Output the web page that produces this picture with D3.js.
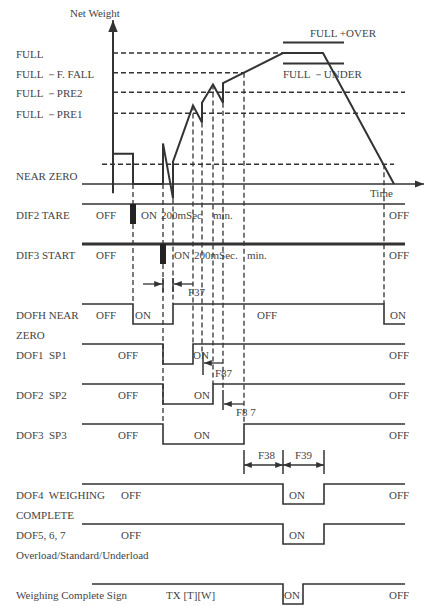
<!DOCTYPE html>
<html>
<head>
<meta charset="utf-8">
<script src="https://cdn.jsdelivr.net/npm/d3@7"></script>
<style>
  body { margin: 0; background: #fff; }
  svg text { font-family: "Liberation Serif", "DejaVu Serif", serif; font-size: 11px; fill: #444; white-space: pre; }
</style>
</head>
<body>
<div id="chart"></div>
<script>
// Net weight curve (time units, weight in % of FULL)
const curveT = [0, 0, 20, 20, 50, 50, 60, 60, 80, 89, 89, 100, 110, 110, 170, 210, 281];
const curveW = [0, 23, 23, 0, 0, 31, -11, 17, 60, 47, 62, 76, 62, 77, 100, 100, 0];

// Weight set points (dashed reference levels)
const levelNames = ["FULL", "FULL －F. FALL", "FULL －PRE2", "FULL －PRE1", "NEAR ZERO"];
const levelValues = [100, 85, 70, 54, 15];
const levelStart = [0, 0, 0, 0, -11];
const levelEnd = [170, 131, 292, 292, 281];

// Over / under tolerance band
const bandNames = ["FULL +OVER", "FULL －UNDER"];
const bandValues = [108, 92];
const bandRange = [170, 231];

// Signal rows
const rowNames = ["DIF2 TARE", "DIF3 START", "DOFH NEAR", "DOF1  SP1", "DOF2  SP2", "DOF3  SP3", "DOF4  WEIGHING", "DOF5, 6, 7", "Weighing Complete Sign"];
const rowSubNames = [null, null, "ZERO", null, null, null, "COMPLETE", "Overload/Standard/Underload", null];
const rowSlots = [0, 2, 5, 7, 9, 11, 14, 16, 19];
const rowBegin = [-31, -31, -31, -31, -31, -31, -31, -31, -21];
const rowEdges = [[], [], [20, 60, 271], [50, 80], [50, 100], [50, 131], [170, 211], [170, 211], [170, 190]];
const pulses = [[0, 17, 23], [1, 47, 53]]; // [row, from, to]

// State texts: [row, time, text]
const stateTexts = [
  [0, -17, "OFF"], [0, 28, "ON"], [0, 48, "200mSec"], [0, 100, "min."], [0, 276, "OFF"],
  [1, -17, "OFF"], [1, 61, "ON"], [1, 81, "200mSec."], [1, 134, "min."], [1, 276, "OFF"],
  [2, -17, "OFF"], [2, 22, "ON"], [2, 144, "OFF"], [2, 277, "ON"],
  [3, 5, "OFF"], [3, 80, "ON"], [3, 276, "OFF"],
  [4, 5, "OFF"], [4, 81, "ON"], [4, 276, "OFF"],
  [5, 5, "OFF"], [5, 81, "ON"], [5, 276, "OFF"],
  [6, 8, "OFF"], [6, 176, "ON"], [6, 276, "OFF"],
  [7, 8, "OFF"], [7, 176, "ON"],
  [8, 53, "TX [T][W]"], [8, 171, "ON"], [8, 276, "OFF"]
];

// Vertical guide lines: time, from weight, down to slot
const guideT = [20, 50, 60, 80, 89, 100, 110, 131, 271];
const guideFromW = [0, 0, -11, 60, 47, 76, 62, 85, 15];
const guideToSlot = [5, 11, 5, 7, 7.45, 9, 9.3, 11, 5];

// Timer annotations
const timerTicks = [[50, 3.7, 4.4], [60, 3.7, 4.4], [90, 7.45, 8.55], [110, 9.3, 10.3], [131, 12.3, 13.5], [170, 12.3, 13.5], [211, 12.3, 13.5]];
const timerArrows = [[30, 49, 4, 1], [80, 61, 4, 1], [110, 91, 7.95, 1], [131, 111, 10, 1], [131, 170, 13.05, 2], [170, 211, 13.05, 2]];
const timerLabels = [[75, 4.6, "F37"], [102, 8.65, "F87"], [123, 10.6, "F8 7"], [145, 12.75, "F38"], [182, 12.75, "F39"]];

const W = 432, H = 606;
const svg = d3.select("#chart").append("svg").attr("width", W).attr("height", H);

const defs = svg.append("defs");
defs.append("marker").attr("id", "ah").attr("viewBox", "0 0 10 10")
  .attr("refX", 10).attr("refY", 5).attr("markerWidth", 6).attr("markerHeight", 6)
  .attr("orient", "auto-start-reverse")
  .append("path").attr("d", "M0,1L10,5L0,9Z").attr("fill", "#333");

const x = d3.scaleLinear().domain([0, 100]).range([113, 213]);
const y = d3.scaleLinear().domain([0, 100]).range([184, 53]);
const s = d3.scaleLinear().domain([0, 1]).range([204, 224]);
const ink = "#333";
const labelX = 16;

// Dashed levels
svg.selectAll(".lvl").data(levelValues).join("line")
  .attr("x1", (d, i) => x(levelStart[i])).attr("x2", (d, i) => x(levelEnd[i]))
  .attr("y1", d => y(d)).attr("y2", d => y(d))
  .attr("stroke", ink).attr("stroke-width", 1.5).attr("stroke-dasharray", "5,3");

svg.selectAll(".lvlt").data(levelNames).join("text")
  .attr("x", labelX)
  .attr("y", (d, i) => i === 4 ? y(levelValues[i]) + 16 : y(levelValues[i]) + 5)
  .text(d => d);

// Guides
svg.selectAll(".guide").data(guideT).join("line")
  .attr("x1", d => x(d)).attr("x2", d => x(d))
  .attr("y1", (d, i) => y(guideFromW[i])).attr("y2", (d, i) => s(guideToSlot[i]))
  .attr("stroke", ink).attr("stroke-width", 1.3).attr("stroke-dasharray", "5,3");

// Axes
svg.append("line").attr("x1", x(0)).attr("x2", x(0)).attr("y1", y(-7)).attr("y2", y(125))
  .attr("stroke", ink).attr("stroke-width", 2).attr("marker-end", "url(#ah)");
svg.append("line").attr("x1", x(-31)).attr("x2", x(311)).attr("y1", y(0)).attr("y2", y(0))
  .attr("stroke", ink).attr("stroke-width", 1.5).attr("marker-end", "url(#ah)");
svg.append("text").attr("x", 70).attr("y", 17).text("Net Weight");
svg.append("text").attr("x", x(257)).attr("y", y(0) + 13).text("Time");

// Tolerance band
svg.selectAll(".band").data(bandValues).join("line")
  .attr("x1", x(bandRange[0])).attr("x2", x(bandRange[1]))
  .attr("y1", d => y(d)).attr("y2", d => y(d))
  .attr("stroke", ink).attr("stroke-width", 1.8);
svg.append("text").attr("x", x(197)).attr("y", y(bandValues[0]) - 6).text(bandNames[0]);
svg.append("text").attr("x", x(170)).attr("y", y(bandValues[1]) + 15).text(bandNames[1]);

// Weight curve
const curve = d3.line().x(d => x(d[0])).y(d => y(d[1]));
svg.append("path").attr("d", curve(d3.zip(curveT, curveW)))
  .attr("fill", "none").attr("stroke", ink).attr("stroke-width", 2);

// Signal rows
rowNames.forEach((name, i) => {
  const slot = rowSlots[i];
  const pts = [[rowBegin[i], slot]];
  let level = 0;
  rowEdges[i].forEach(t => {
    pts.push([t, slot + level]);
    level = 1 - level;
    pts.push([t, slot + level]);
  });
  pts.push([292, slot + level]);
  svg.append("path").attr("d", d3.line().x(d => x(d[0])).y(d => s(d[1]))(pts))
    .attr("fill", "none").attr("stroke", ink)
    .attr("stroke-width", i === 1 ? 3 : 1.6);
  svg.append("text").attr("x", labelX).attr("y", s(slot + 0.75)).text(name);
  if (rowSubNames[i]) {
    svg.append("text").attr("x", labelX).attr("y", s(slot + 1.75)).text(rowSubNames[i]);
  }
});

svg.selectAll(".pulse").data(pulses).join("rect")
  .attr("x", d => x(d[1])).attr("width", d => x(d[2]) - x(d[1]))
  .attr("y", d => s(rowSlots[d[0]])).attr("height", s(1) - s(0))
  .attr("fill", "#222");

svg.selectAll(".state").data(stateTexts).join("text")
  .attr("x", d => x(d[1])).attr("y", d => s(rowSlots[d[0]] + 0.75))
  .text(d => d[2]);

// Timers
svg.selectAll(".tick").data(timerTicks).join("line")
  .attr("x1", d => x(d[0])).attr("x2", d => x(d[0]))
  .attr("y1", d => s(d[1])).attr("y2", d => s(d[2]))
  .attr("stroke", ink).attr("stroke-width", 1.5);
svg.selectAll(".arr").data(timerArrows).join("line")
  .attr("x1", d => x(d[0])).attr("x2", d => x(d[1]))
  .attr("y1", d => s(d[2])).attr("y2", d => s(d[2]))
  .attr("stroke", ink).attr("stroke-width", 1.3)
  .attr("marker-end", "url(#ah)")
  .attr("marker-start", d => d[3] === 2 ? "url(#ah)" : null);
svg.selectAll(".tl").data(timerLabels).join("text")
  .attr("x", d => x(d[0])).attr("y", d => s(d[1]))
  .text(d => d[2]);
</script>
</body>
</html>
